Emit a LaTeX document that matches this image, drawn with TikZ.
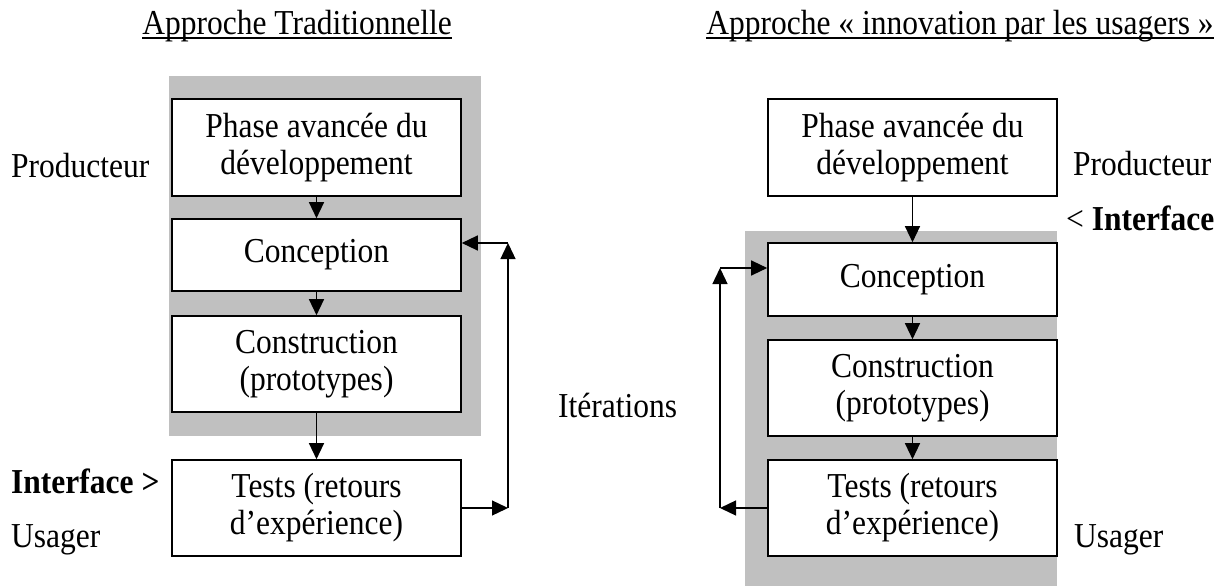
\documentclass[tikz,border=0pt]{standalone}
\usepackage{fontspec}
\setmainfont[FakeStretch=0.9]{Liberation Serif}
\usetikzlibrary{arrows.meta}
\definecolor{greyzone}{RGB}{192,192,192}
\begin{document}
\begin{tikzpicture}[x=1pt,y=-1pt,
  txt/.style={font=\fontsize{35pt}{37pt}\selectfont},
  box/.style={txt, draw, line width=1.6pt, fill=white, minimum width=289pt, inner sep=0pt, align=center},
  lbl/.style={txt, inner sep=0pt, anchor=base west},
  ttl/.style={txt, inner sep=0pt, anchor=base},
  conn/.style={line width=1.3pt, -{Triangle[length=16pt,width=15pt]}},
  uline/.style={line width=1.5pt}]
\useasboundingbox (0,0) rectangle (1227,586);
% grey zones
\fill[greyzone] (169,76) rectangle (481,436);
\fill[greyzone] (745,231) rectangle (1057,586);
% titles
\node[ttl] (lt) at (297,35) {Approche Traditionnelle};
\draw[uline] ([yshift=-3pt]lt.base west) -- ([yshift=-3pt]lt.base east);
\node[ttl] (rt) at (960,35) {Approche « innovation par les usagers »};
\draw[uline] ([yshift=-3pt]rt.base west) -- ([yshift=-3pt]rt.base east);
% left column
\node[box, minimum height=97pt] (lphase) at (316.5,147.5) {Phase avancée du\\développement};
\node[box, minimum height=72pt] (lconc) at (316.5,255) {Conception};
\node[box, minimum height=96pt] (lcons) at (316.5,364) {Construction\\(prototypes)};
\node[box, minimum height=96pt] (ltest) at (316.5,508) {Tests (retours\\d’expérience)};
\draw[conn] (lphase) -- (lconc);
\draw[conn] (lconc) -- (lcons);
\draw[conn] (lcons) -- (ltest);
\coordinate (lf1) at (508,508);
\coordinate (lf2) at (508,243);
\draw[conn] (ltest.east) -- (lf1);
\draw[conn] (lf1) -- (lf2);
\draw[conn] (lf2) -- (lf2 -| lconc.east);
\node[lbl] (lprod) at (11,177) {Producteur};
\node[lbl] (lint) at (11,493) {\bfseries Interface >};
\node[lbl] (lusa) at (11,547) {Usager};
\node[lbl] (iter) at (558,417) {Itérations};
% right column
\node[box, minimum height=97pt] (rphase) at (912.5,147.5) {Phase avancée du\\développement};
\node[box, minimum height=73pt] (rconc) at (912.5,279.5) {Conception};
\node[box, minimum height=96pt] (rcons) at (912.5,388) {Construction\\(prototypes)};
\node[box, minimum height=96pt] (rtest) at (912.5,508) {Tests (retours\\d’expérience)};
\draw[conn] (rphase) -- (rconc);
\draw[conn] (rconc) -- (rcons);
\draw[conn] (rcons) -- (rtest);
\coordinate (rf1) at (720,508);
\coordinate (rf2) at (720,268);
\draw[conn] (rtest.west) -- (rf1);
\draw[conn] (rf1) -- (rf2);
\draw[conn] (rf2) -- (rf2 -| rconc.west);
\node[lbl] (rprod) at (1073,175) {Producteur};
\node[lbl] (rint) at (1066,230) {< \textbf{Interface}};
\node[lbl] (rusa) at (1074,547) {Usager};
\end{tikzpicture}
\end{document}
